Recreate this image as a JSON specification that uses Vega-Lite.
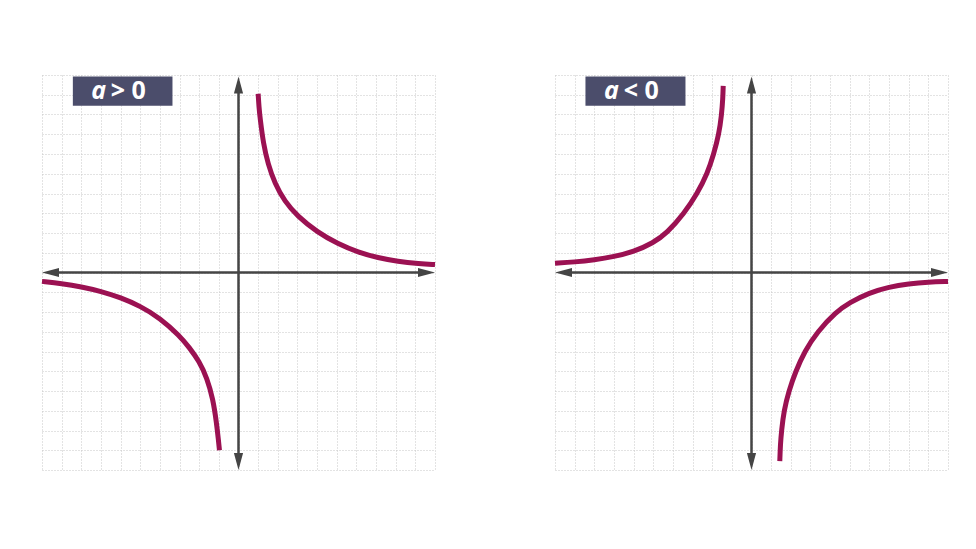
{
  "$schema": "https://vega.github.io/schema/vega-lite/v6.json",
  "background": "white",
  "padding": {"left": 32, "top": 75, "right": 0, "bottom": 0},
  "spacing": 100,
  "datasets": {
    "curves": [
      {"panel": "pos", "branch": "upper", "x": 1.0, "y": 9.05},
      {"panel": "pos", "branch": "upper", "x": 1.04, "y": 8.4},
      {"panel": "pos", "branch": "upper", "x": 1.1, "y": 7.8},
      {"panel": "pos", "branch": "upper", "x": 1.27, "y": 6.5},
      {"panel": "pos", "branch": "upper", "x": 1.5, "y": 5.5},
      {"panel": "pos", "branch": "upper", "x": 1.85, "y": 4.5},
      {"panel": "pos", "branch": "upper", "x": 2.35, "y": 3.6},
      {"panel": "pos", "branch": "upper", "x": 3.0, "y": 2.85},
      {"panel": "pos", "branch": "upper", "x": 4.0, "y": 2.05},
      {"panel": "pos", "branch": "upper", "x": 5.05, "y": 1.45},
      {"panel": "pos", "branch": "upper", "x": 6.1, "y": 1.02},
      {"panel": "pos", "branch": "upper", "x": 7.1, "y": 0.74},
      {"panel": "pos", "branch": "upper", "x": 8.1, "y": 0.56},
      {"panel": "pos", "branch": "upper", "x": 9.2, "y": 0.45},
      {"panel": "pos", "branch": "upper", "x": 10.0, "y": 0.4},
      {"panel": "pos", "branch": "lower", "x": -10.0, "y": -0.45},
      {"panel": "pos", "branch": "lower", "x": -9.0, "y": -0.56},
      {"panel": "pos", "branch": "lower", "x": -8.0, "y": -0.72},
      {"panel": "pos", "branch": "lower", "x": -7.0, "y": -0.95},
      {"panel": "pos", "branch": "lower", "x": -6.0, "y": -1.27},
      {"panel": "pos", "branch": "lower", "x": -5.0, "y": -1.7},
      {"panel": "pos", "branch": "lower", "x": -4.0, "y": -2.3},
      {"panel": "pos", "branch": "lower", "x": -3.0, "y": -3.2},
      {"panel": "pos", "branch": "lower", "x": -2.5, "y": -3.8},
      {"panel": "pos", "branch": "lower", "x": -2.0, "y": -4.5},
      {"panel": "pos", "branch": "lower", "x": -1.6, "y": -5.35},
      {"panel": "pos", "branch": "lower", "x": -1.3, "y": -6.4},
      {"panel": "pos", "branch": "lower", "x": -1.12, "y": -7.6},
      {"panel": "pos", "branch": "lower", "x": -1.02, "y": -8.5},
      {"panel": "pos", "branch": "lower", "x": -0.97, "y": -9.0},
      {"panel": "neg", "branch": "upper", "x": -10.0, "y": 0.47},
      {"panel": "neg", "branch": "upper", "x": -9.0, "y": 0.53},
      {"panel": "neg", "branch": "upper", "x": -8.0, "y": 0.64},
      {"panel": "neg", "branch": "upper", "x": -7.0, "y": 0.8},
      {"panel": "neg", "branch": "upper", "x": -6.0, "y": 1.05},
      {"panel": "neg", "branch": "upper", "x": -5.0, "y": 1.5},
      {"panel": "neg", "branch": "upper", "x": -4.3, "y": 2.0},
      {"panel": "neg", "branch": "upper", "x": -3.42, "y": 3.0},
      {"panel": "neg", "branch": "upper", "x": -2.76, "y": 4.0},
      {"panel": "neg", "branch": "upper", "x": -2.25, "y": 5.0},
      {"panel": "neg", "branch": "upper", "x": -1.92, "y": 6.0},
      {"panel": "neg", "branch": "upper", "x": -1.66, "y": 7.0},
      {"panel": "neg", "branch": "upper", "x": -1.52, "y": 8.0},
      {"panel": "neg", "branch": "upper", "x": -1.46, "y": 8.8},
      {"panel": "neg", "branch": "upper", "x": -1.44, "y": 9.45},
      {"panel": "neg", "branch": "lower", "x": 1.44, "y": -9.55},
      {"panel": "neg", "branch": "lower", "x": 1.47, "y": -8.7},
      {"panel": "neg", "branch": "lower", "x": 1.53, "y": -8.0},
      {"panel": "neg", "branch": "lower", "x": 1.65, "y": -7.0},
      {"panel": "neg", "branch": "lower", "x": 1.9, "y": -6.0},
      {"panel": "neg", "branch": "lower", "x": 2.25, "y": -5.0},
      {"panel": "neg", "branch": "lower", "x": 2.7, "y": -4.0},
      {"panel": "neg", "branch": "lower", "x": 3.35, "y": -3.0},
      {"panel": "neg", "branch": "lower", "x": 4.3, "y": -2.0},
      {"panel": "neg", "branch": "lower", "x": 5.0, "y": -1.52},
      {"panel": "neg", "branch": "lower", "x": 6.0, "y": -1.02},
      {"panel": "neg", "branch": "lower", "x": 7.0, "y": -0.73},
      {"panel": "neg", "branch": "lower", "x": 8.0, "y": -0.57},
      {"panel": "neg", "branch": "lower", "x": 9.0, "y": -0.48},
      {"panel": "neg", "branch": "lower", "x": 10.0, "y": -0.45}
    ],
    "axes": [
      {"x": -9.6, "x2": 9.6, "y": 0, "y2": 0},
      {"x": 0, "x2": 0, "y": -9.6, "y2": 9.5}
    ],
    "arrows": [
      {"x": 10, "y": 0, "dir": 0},
      {"x": -10, "y": 0, "dir": 180},
      {"x": 0, "y": 9.93, "dir": 270},
      {"x": 0, "y": -10, "dir": 90}
    ],
    "badges": [
      {"panel": "pos", "x": -8.43, "x2": -3.36, "y": 9.93, "y2": 8.44},
      {"panel": "neg", "x": -8.45, "x2": -3.36, "y": 9.93, "y2": 8.44}
    ],
    "labels": [
      {"panel": "pos", "part": "a", "x": -7.12, "y": 8.78},
      {"panel": "pos", "part": "> 0", "x": -6.5, "y": 8.78},
      {"panel": "neg", "part": "a", "x": -7.13, "y": 8.78},
      {"panel": "neg", "part": "< 0", "x": -6.5, "y": 8.78}
    ]
  },
  "hconcat": [
    {
      "width": 393,
      "height": 395,
      "layer": [
        {
          "data": {"name": "axes"},
          "mark": {"type": "rule", "color": "#454545", "strokeWidth": 2.5},
          "encoding": {
            "x": {"field": "x", "type": "quantitative", "title": null, "scale": {"domain": [-10, 10], "nice": false, "zero": false}},
            "x2": {"field": "x2"},
            "y": {"field": "y", "type": "quantitative", "title": null, "scale": {"domain": [-10, 10], "nice": false, "zero": false}},
            "y2": {"field": "y2"}
          }
        },
        {
          "data": {"name": "arrows"},
          "mark": {"type": "point", "shape": "M-2,-0.54L0,0L-2,0.54Z", "size": 289, "filled": true, "color": "#454545", "opacity": 1},
          "encoding": {
            "x": {"field": "x", "type": "quantitative", "title": null},
            "y": {"field": "y", "type": "quantitative", "title": null},
            "angle": {"field": "dir", "type": "quantitative", "scale": null}
          }
        },
        {
          "data": {"name": "curves"},
          "transform": [{"filter": "datum.panel === 'pos'"}],
          "mark": {"type": "line", "color": "#9b1152", "strokeWidth": 5, "strokeCap": "butt", "interpolate": "basis"},
          "encoding": {
            "x": {"field": "x", "type": "quantitative", "title": null},
            "y": {"field": "y", "type": "quantitative", "title": null},
            "detail": {"field": "branch"}
          }
        },
        {
          "data": {"name": "badges"},
          "transform": [{"filter": "datum.panel === 'pos'"}],
          "mark": {"type": "rect", "color": "#4b4d6b"},
          "encoding": {
            "x": {"field": "x", "type": "quantitative", "title": null},
            "x2": {"field": "x2"},
            "y": {"field": "y", "type": "quantitative", "title": null},
            "y2": {"field": "y2"}
          }
        },
        {
          "data": {"name": "labels"},
          "transform": [{"filter": "datum.panel === 'pos' && datum.part === 'a'"}],
          "mark": {"type": "text", "font": "Open Sans", "fontSize": 25, "fontWeight": "bold", "fontStyle": "italic", "color": "white", "align": "center", "baseline": "alphabetic"},
          "encoding": {
            "x": {"field": "x", "type": "quantitative", "title": null},
            "y": {"field": "y", "type": "quantitative", "title": null},
            "text": {"field": "part"}
          }
        },
        {
          "data": {"name": "labels"},
          "transform": [{"filter": "datum.panel === 'pos' && datum.part !== 'a'"}],
          "mark": {"type": "text", "font": "Open Sans", "fontSize": 25, "fontWeight": "bold", "color": "white", "align": "left", "baseline": "alphabetic"},
          "encoding": {
            "x": {"field": "x", "type": "quantitative", "title": null},
            "y": {"field": "y", "type": "quantitative", "title": null},
            "text": {"field": "part"}
          }
        }
      ]
    },
    {
      "width": 393,
      "height": 395,
      "layer": [
        {
          "data": {"name": "axes"},
          "mark": {"type": "rule", "color": "#454545", "strokeWidth": 2.5},
          "encoding": {
            "x": {"field": "x", "type": "quantitative", "title": null, "scale": {"domain": [-10, 10], "nice": false, "zero": false}},
            "x2": {"field": "x2"},
            "y": {"field": "y", "type": "quantitative", "title": null, "scale": {"domain": [-10, 10], "nice": false, "zero": false}},
            "y2": {"field": "y2"}
          }
        },
        {
          "data": {"name": "arrows"},
          "mark": {"type": "point", "shape": "M-2,-0.54L0,0L-2,0.54Z", "size": 289, "filled": true, "color": "#454545", "opacity": 1},
          "encoding": {
            "x": {"field": "x", "type": "quantitative", "title": null},
            "y": {"field": "y", "type": "quantitative", "title": null},
            "angle": {"field": "dir", "type": "quantitative", "scale": null}
          }
        },
        {
          "data": {"name": "curves"},
          "transform": [{"filter": "datum.panel === 'neg'"}],
          "mark": {"type": "line", "color": "#9b1152", "strokeWidth": 5, "strokeCap": "butt", "interpolate": "basis"},
          "encoding": {
            "x": {"field": "x", "type": "quantitative", "title": null},
            "y": {"field": "y", "type": "quantitative", "title": null},
            "detail": {"field": "branch"}
          }
        },
        {
          "data": {"name": "badges"},
          "transform": [{"filter": "datum.panel === 'neg'"}],
          "mark": {"type": "rect", "color": "#4b4d6b"},
          "encoding": {
            "x": {"field": "x", "type": "quantitative", "title": null},
            "x2": {"field": "x2"},
            "y": {"field": "y", "type": "quantitative", "title": null},
            "y2": {"field": "y2"}
          }
        },
        {
          "data": {"name": "labels"},
          "transform": [{"filter": "datum.panel === 'neg' && datum.part === 'a'"}],
          "mark": {"type": "text", "font": "Open Sans", "fontSize": 25, "fontWeight": "bold", "fontStyle": "italic", "color": "white", "align": "center", "baseline": "alphabetic"},
          "encoding": {
            "x": {"field": "x", "type": "quantitative", "title": null},
            "y": {"field": "y", "type": "quantitative", "title": null},
            "text": {"field": "part"}
          }
        },
        {
          "data": {"name": "labels"},
          "transform": [{"filter": "datum.panel === 'neg' && datum.part !== 'a'"}],
          "mark": {"type": "text", "font": "Open Sans", "fontSize": 25, "fontWeight": "bold", "color": "white", "align": "left", "baseline": "alphabetic"},
          "encoding": {
            "x": {"field": "x", "type": "quantitative", "title": null},
            "y": {"field": "y", "type": "quantitative", "title": null},
            "text": {"field": "part"}
          }
        }
      ]
    }
  ],
  "config": {
    "view": {"stroke": null},
    "axis": {
      "grid": true,
      "labels": false,
      "ticks": false,
      "domain": false,
      "tickCount": 20,
      "gridColor": "#c6c6c6",
      "gridDash": [1, 2],
      "gridWidth": 1
    }
  }
}
